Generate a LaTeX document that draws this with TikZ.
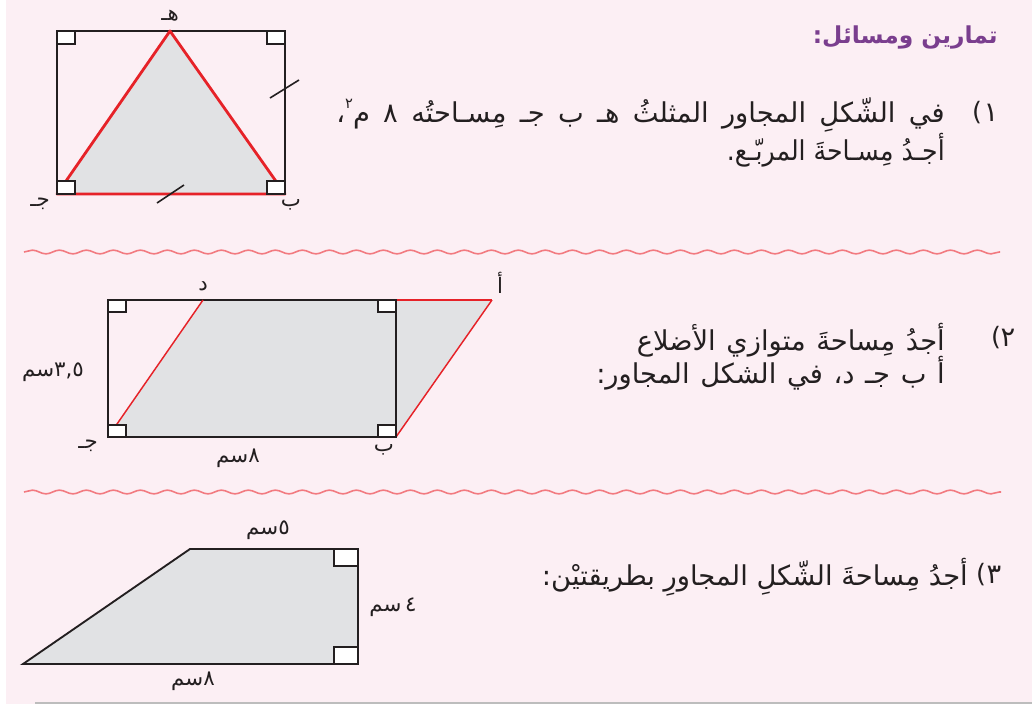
\documentclass[tikz,border=0pt]{standalone}
\usepackage{fontspec}
\TeXXeTstate=1
\newfontfamily\arabicfont[Script=Arabic]{DejaVu Sans}
\newfontfamily\plainsans{DejaVu Sans}
\usetikzlibrary{decorations.pathmorphing}
\definecolor{bgpink}{HTML}{FCEFF4}
\definecolor{shadegray}{HTML}{E1E2E4}
\definecolor{figred}{HTML}{E62228}
\definecolor{wavered}{HTML}{F27A80}
\definecolor{titlepurple}{HTML}{7A3E8E}
\definecolor{inkblack}{HTML}{231F20}
\definecolor{rulegray}{HTML}{BDBDBD}
\tikzset{
  blkedge/.style={draw=inkblack, line width=2pt, line join=miter},
  blkthin/.style={draw=inkblack, line width=1.4pt, line join=miter},
  rededge/.style={draw=figred, line width=2.1pt, line join=round},
  redthin/.style={draw=figred, line width=1.1pt},
  shadefill/.style={fill=shadegray},
  rightsq/.style={fill=white, draw=inkblack, line width=1.3pt},
  tickmark/.style={draw=inkblack, line width=1.2pt},
  wavy/.style={draw=wavered, line width=1.2pt, decorate,
    decoration={snake, segment length=20.25pt, amplitude=1.4pt}},
  bodytext/.style={inner sep=0pt, text=inkblack, font=\arabicfont\fontsize{20.5}{23}\selectfont},
  parentext/.style={inner sep=0pt, text=inkblack, font=\plainsans\fontsize{19}{22}\selectfont},
  lbl/.style={inner sep=0pt, text=inkblack, font=\arabicfont\fontsize{16}{18}\selectfont},
  titletext/.style={inner sep=0pt, text=titlepurple, font=\arabicfont\bfseries\fontsize{17.5}{20}\selectfont},
}
\begin{document}
\begin{tikzpicture}[x=0.75pt,y=-0.75pt]
\useasboundingbox (0,0) rectangle (1032,704);
\fill[white] (0,0) rectangle (1032,704);
\fill[bgpink] (6,0) rectangle (1032,704);
\coordinate (ruleL) at (35,703);
\coordinate (ruleR) at (1032,703);
\draw[rulegray, line width=1.2pt] (ruleL) -- (ruleR);

% ---------- wavy separators
\coordinate (w1a) at (24,252); \coordinate (w1b) at (1000,252);
\coordinate (w2a) at (24,492); \coordinate (w2b) at (1001,492);
\draw[wavy] (w1a) -- (w1b);
\draw[wavy] (w2a) -- (w2b);

% ---------- figure 1
\coordinate (H) at (170,31);
\coordinate (J) at (57,194);
\coordinate (B) at (285,194);
\coordinate (TL1) at (57,31);
\coordinate (TR1) at (285,31);
\fill[shadefill] (H) -- (J) -- (B) -- cycle;
\draw[blkedge] (TL1) rectangle (B);
\draw[rededge] (H) -- (J) -- (B) -- cycle;
\draw[rightsq] (57,31) rectangle (75,44);
\draw[rightsq] (267,31) rectangle (285,44);
\draw[rightsq] (57,181) rectangle (75,194);
\draw[rightsq] (267,181) rectangle (285,194);
\coordinate (t1a) at (270,98); \coordinate (t1b) at (299,80);
\coordinate (t2a) at (157,203); \coordinate (t2b) at (184,185);
\draw[tickmark] (t1a) -- (t1b);
\draw[tickmark] (t2a) -- (t2b);
\node[lbl] (lH) at (170,16) {هـ};
\node[lbl] (lJ) at (40,204) {جـ};
\node[lbl] (lB) at (291,205) {ب};

% ---------- figure 2
\coordinate (J2) at (108,437);
\coordinate (B2) at (396,437);
\coordinate (A2) at (492,300);
\coordinate (D2) at (203,300);
\coordinate (TL2) at (108,300);
\coordinate (TR2) at (396,300);
\fill[shadefill] (J2) -- (B2) -- (A2) -- (D2) -- cycle;
\draw[blkthin] (TL2) rectangle (B2);
\draw[redthin] (J2) -- (D2);
\draw[redthin] (B2) -- (A2);
\draw[redthin] (TR2) -- (A2);
\draw[rightsq] (108,300) rectangle (126,312);
\draw[rightsq] (378,300) rectangle (396,312);
\draw[rightsq] (108,425) rectangle (126,437);
\draw[rightsq] (378,425) rectangle (396,437);
\node[lbl] (lD2) at (203,286) {د};
\node[lbl] (lA2) at (500,283) {أ};
\node[lbl] (lJ2) at (88,446) {جـ};
\node[lbl] (lB2) at (384,450) {ب};
\node[lbl] (l35) at (53,372) {سم\hbox{}٣,٥};
\node[lbl] (l8a) at (238,458) {سم\hbox{}٨};

% ---------- figure 3
\coordinate (P1) at (23,664);
\coordinate (P2) at (190,549);
\coordinate (P3) at (358,549);
\coordinate (P4) at (358,664);
\fill[shadefill] (P1) -- (P2) -- (P3) -- (P4) -- cycle;
\draw[blkthin] (P1) -- (P2) -- (P3) -- (P4) -- cycle;
\draw[rightsq] (334,549) rectangle (358,566);
\draw[rightsq] (334,647) rectangle (358,664);
\node[lbl] (l5) at (268,530) {سم\hbox{}٥};
\node[lbl] (l4) at (393,607) {سم\,\hbox{}٤};
\node[lbl] (l8b) at (193,681) {سم\hbox{}٨};

% ---------- texts
\node[titletext, anchor=east] (title) at (998,37) {\beginR تمارين ومسائل:\endR};

\node[parentext] (n1p) at (977,113) {(};
\node[bodytext] (n1d) at (991,113) {١};
\node[bodytext, anchor=east] (p1a) at (945,115)
  {\spaceskip=10pt\relax\beginR في الشّكلِ المجاور المثلثُ هـ ب جـ مِسـاحتُه ٨ م\raisebox{0.9ex}{\fontsize{11}{12}\selectfont ٢}،\endR};
\node[bodytext, anchor=east] (p1b) at (945,150) {\scalebox{0.92}[1]{\beginR أجـدُ مِسـاحةَ المربّـع.\endR}};

\node[parentext] (n2p) at (996,338) {(};
\node[bodytext] (n2d) at (1008,338) {٢};
\node[bodytext, anchor=east] (p2a) at (945,340) {\spaceskip=8pt\relax\beginR أجدُ مِساحةَ متوازي الأضلاع\endR};
\node[bodytext, anchor=east] (p2b) at (945,373) {\spaceskip=8pt\relax\beginR أ ب جـ د، في الشكل المجاور:\endR};

\node[parentext] (n3p) at (981,575) {(};
\node[bodytext] (n3d) at (994,575) {٣};
\node[bodytext, anchor=east] (p3) at (968,577) {\beginR أجدُ مِساحةَ الشّكلِ المجاورِ بطريقتيْن:\endR};
\end{tikzpicture}
\end{document}
